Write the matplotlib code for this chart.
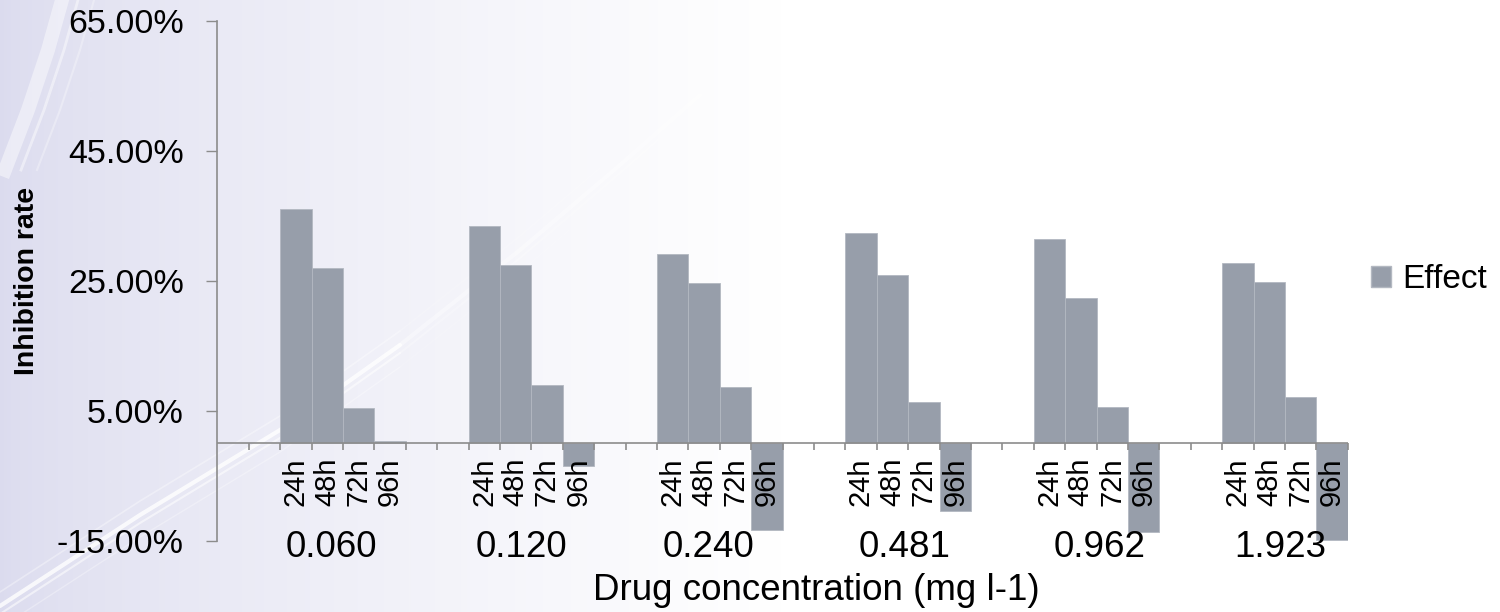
import numpy as np
import matplotlib
matplotlib.use("Agg")
from matplotlib import pyplot as plt
from matplotlib import font_manager
from matplotlib.ticker import FuncFormatter
from matplotlib.patches import Patch
import matplotlib.transforms as mtransforms

# inhibition rate (%) per drug concentration, one list per exposure time
concentrations = ['0.060', '0.120', '0.240', '0.481', '0.962', '1.923']
hours = ['24h', '48h', '72h', '96h']
rate_24h = [36.0, 33.5, 29.1, 32.3, 31.4, 27.8]
rate_48h = [27.0, 27.4, 24.6, 25.9, 22.3, 24.8]
rate_72h = [5.4, 9.0, 8.7, 6.3, 5.6, 7.1]
rate_96h = [0.3, -3.5, -13.4, -10.5, -13.6, -14.9]
rates = [rate_24h, rate_48h, rate_72h, rate_96h]

bar_color = '#979eaa'
axis_color = '#8c8c8c'
plt.rcParams['font.family'] = ['Liberation Sans', 'DejaVu Sans']

installed = {f.name for f in font_manager.fontManager.ttflist}
if 'Liberation Sans Narrow' in installed:
    ylab_family, ylab_size = 'Liberation Sans Narrow', 24
else:
    ylab_family, ylab_size = 'Liberation Sans', 20.5

W, H = 1500, 612
fig = plt.figure(figsize=(W / 100, H / 100), dpi=100)

# soft lavender-to-white backdrop
bg = fig.add_axes([0, 0, 1, 1], zorder=0)
bg.set_axis_off()
xs = np.linspace(0, 1, 800)
t = np.clip(xs / 0.52, 0, 1) ** 0.7
lav = np.array([0.86, 0.86, 0.935])
grad = lav[None, :] * (1 - t)[:, None] + np.ones(3)[None, :] * t[:, None]
bg.imshow(np.tile(grad[None, :, :], (40, 1, 1)), extent=[0, 1, 0, 1], aspect='auto')

# faint white streaks across the lower left
def px(pts):
    pts = np.array(pts, dtype=float)
    return pts[:, 0] / W, 1 - pts[:, 1] / H

for dy, lw, a in [(0, 3.0, 0.8), (8, 1.5, 0.55), (-14, 1.2, 0.35), (22, 1.0, 0.3)]:
    sx, sy = px([(0, 606 + dy), (140, 515 + dy), (280, 430 + dy), (400, 345 + dy)])
    bg.plot(sx, sy, color='white', lw=lw, alpha=a, solid_capstyle='round')
    sx, sy = px([(400, 345 + dy), (520, 250 + dy), (620, 165 + dy), (700, 95 + dy)])
    bg.plot(sx, sy, color='white', lw=lw, alpha=a * 0.45, solid_capstyle='round')
for dx, lw, a in [(0, 10, 0.45), (16, 2, 0.45), (32, 1.5, 0.3)]:
    sx, sy = px([(62 + dx, 0), (48 + dx, 50), (28 + dx, 110), (5 + dx, 170)])
    bg.plot(sx, sy, color='white', lw=lw, alpha=a)
bg.set_xlim(0, 1)
bg.set_ylim(0, 1)

ax = fig.add_axes([217.3 / W, 1 - 540.7 / H, 1130.4 / W, 519.7 / H], zorder=1)
ax.set_facecolor('none')

n_slots = 6 * len(concentrations)
for g in range(len(concentrations)):
    for h in range(len(hours)):
        slot = 6 * g + 2 + h
        ax.bar(slot + 0.5, rates[h][g], width=1.0, color=bar_color,
               edgecolor='#b3b8c1', linewidth=0.6, zorder=2)
        ax.annotate(hours[h], xy=(slot + 0.5, 0), xytext=(0, -10.5),
                    textcoords='offset points', rotation=90, ha='center', va='top',
                    fontsize=21, zorder=4)

ax.set_xlim(0, n_slots)
ax.set_ylim(-15, 65)
ax.set_yticks([-15, 5, 25, 45, 65])
ax.yaxis.set_major_formatter(FuncFormatter(lambda v, p: '{:.2f}%'.format(v)))
ax.tick_params(axis='y', length=8, width=1, color=axis_color, labelsize=24.5, pad=16)
ax.set_xticks([])
for s in ['top', 'right', 'bottom']:
    ax.spines[s].set_visible(False)
ax.spines['left'].set_color(axis_color)
ax.spines['left'].set_linewidth(1.2)

# category axis along zero with ticks at every slot edge
ax.axhline(0, color=axis_color, lw=1.2, zorder=3)
for k in range(1, n_slots + 1):
    ax.plot([k], [0], marker=3, markersize=5, color=axis_color,
            markeredgewidth=1.2, zorder=3, clip_on=False)

# concentration labels under each group (slot position of each label)
conc_x = [3.62, 9.69, 15.63, 21.88, 28.1, 33.84]
lab_tr = mtransforms.blended_transform_factory(ax.transData, fig.transFigure)
for cx, c in zip(conc_x, concentrations):
    ax.text(cx, 1 - 556.7 / H, c, transform=lab_tr, ha='center', va='baseline',
            fontsize=26.5)

fig.text(816.7 / W, 1 - 600 / H, 'Drug concentration (mg l-1)', ha='center',
         va='baseline', fontsize=26.5)
fig.text(27 / W, 1 - 281 / H, 'Inhibition rate', rotation=90, ha='center',
         va='center', fontsize=ylab_size, fontweight='bold', family=ylab_family)

ax.legend(handles=[Patch(facecolor=bar_color, edgecolor='#b3b8c1', label='Effect')],
          loc='center left', bbox_to_anchor=(1371 / W, 1 - 280 / H),
          bbox_transform=fig.transFigure, frameon=False, fontsize=24,
          handlelength=0.6, handleheight=0.6, handletextpad=0.35, borderaxespad=0,
          borderpad=0)

fig.savefig('out.png', dpi=100)
